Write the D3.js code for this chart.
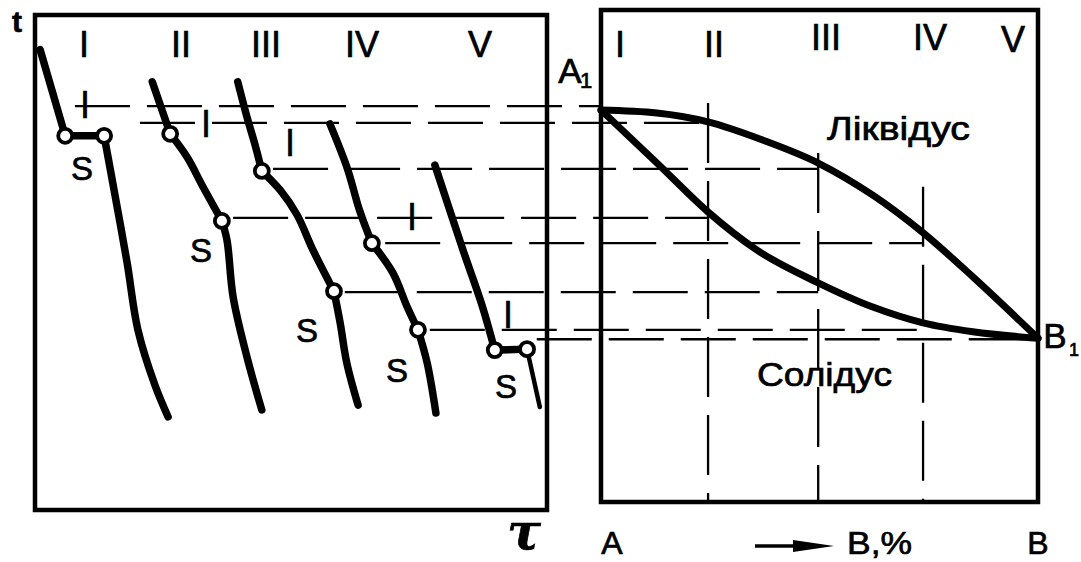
<!DOCTYPE html>
<html>
<head>
<meta charset="utf-8">
<script src="https://cdn.jsdelivr.net/npm/d3@7"></script>
<style>
  body { margin: 0; background: #fff; }
  svg { display: block; }
  text { font-family: "Liberation Sans", Arial, sans-serif; fill: #000; stroke: #000; stroke-width: 0.7px; }
</style>
</head>
<body>
<svg width="1081" height="562"></svg>
<script>
// --- Data: cooling curves [tau, t], split into liquid / crystallisation / solid parts ---
const alloys = ["I", "II", "III", "IV", "V"];

const coolI = [
  [[1, 93], [5.9, 75.6]],
  [[5.9, 75.6], [13.5, 75.6]],
  [[13.5, 75.6], [15.8, 62.6], [18.0, 49.9], [20.1, 36.4], [23.4, 25.3], [26.0, 18.8]]
];
const coolII = [
  [[22.9, 86.5], [26.4, 76.0]],
  [[26.4, 76.0], [29.7, 71.3], [32.8, 65.3], [36.5, 58.4]],
  [[36.5, 58.4], [37.5, 54.5], [38.7, 43.0], [41.4, 30.9], [44.3, 20.2]]
];
const coolIII = [
  [[39.6, 86.5], [41.4, 79.4], [43.0, 73.7], [44.3, 68.5]],
  [[44.3, 68.5], [47.9, 64.6], [51.2, 59.6], [54.3, 52.5], [58.4, 44.2]],
  [[58.4, 44.2], [59.6, 37.8], [60.9, 29.7], [63.1, 21.2]]
];
const coolIV = [
  [[57.6, 78.0], [61.0, 69.0], [63.4, 60.5], [65.8, 53.9]],
  [[65.8, 53.9], [69.9, 47.9], [72.7, 41.0], [74.8, 36.4]],
  [[74.8, 36.4], [76.6, 29.7], [78.3, 19.6]]
];
const coolV = [
  [[78.1, 69.7], [83.6, 52.5], [87.3, 41.4], [89.8, 32.3]],
  [[89.8, 32.3], [96.1, 32.5]],
  [[96.1, 32.5], [98.6, 20.8]]
];

// --- Data: phase diagram [B %, t] ---
const liquidus = [[0, 80.8], [12.8, 80.2], [24.5, 78.4], [37.1, 74.7], [49.7, 70.1],
                  [62.2, 63.6], [73.7, 56.0], [85.1, 47.1], [100, 34.7]];
const solidus = [[0, 80.8], [12.8, 70.1], [24.5, 60.2], [35.7, 52.5], [49.7, 45.9],
                 [62.2, 41.0], [73.7, 37.8], [85.1, 36.0], [100, 34.7]];
const alloyComp = [0, 24.5, 49.7, 73.7, 100];
const isoplethTop = [82.2, 72.1, 65.3];   // tops of dashed verticals for II, III, IV

// --- Data: transfer lines (temperature, start tau on left, end composition on right) ---
const tieT = [81.6, 78.2, 68.9, 59.0, 53.9, 44.0, 36.4, 34.5];
const tieStartTau = [7.8, 20.5, 46.5, 38.7, 68.4, 60.5, 77.1, 98.0];
const tieEndComp = [0, 24.5, 49.7, 24.5, 73.7, 49.7, 73.7, 100];

const svg = d3.select("svg");

// scales
const x = d3.scaleLinear().domain([0, 100]).range([35, 547]);      // time
const y = d3.scaleLinear().domain([0, 100]).range([510, 15]);      // temperature
const xc = d3.scaleLinear().domain([0, 100]).range([601, 1038]);   // composition
const rightTop = 10, rightBottom = 502;

// --- transfer lines (drawn first, under everything) ---
svg.append("g")
  .selectAll("line")
  .data(tieT)
  .enter().append("line")
  .attr("x1", (d, i) => x(tieStartTau[i]))
  .attr("x2", (d, i) => xc(tieEndComp[i]))
  .attr("y1", d => y(d))
  .attr("y2", d => y(d))
  .attr("stroke", "#000")
  .attr("stroke-width", 2.3)
  .attr("stroke-dasharray", "55,17");

// dashed verticals for alloys II..IV
svg.append("g")
  .selectAll("line")
  .data(isoplethTop)
  .enter().append("line")
  .attr("x1", (d, i) => xc(alloyComp[i + 1]))
  .attr("x2", (d, i) => xc(alloyComp[i + 1]))
  .attr("y1", d => y(d))
  .attr("y2", rightBottom)
  .attr("stroke", "#000")
  .attr("stroke-width", 2.3)
  .attr("stroke-dasharray", "60,18");

// --- frames ---
svg.append("rect")
  .attr("x", x(0)).attr("y", y(100))
  .attr("width", x(100) - x(0)).attr("height", y(0) - y(100))
  .attr("fill", "none").attr("stroke", "#000").attr("stroke-width", 4.5);

svg.append("rect")
  .attr("x", xc(0)).attr("y", rightTop)
  .attr("width", xc(100) - xc(0)).attr("height", rightBottom - rightTop)
  .attr("fill", "none").attr("stroke", "#000").attr("stroke-width", 4.5);

// --- liquidus / solidus ---
const diagLine = d3.line()
  .x(d => xc(d[0]))
  .y(d => y(d[1]))
  .curve(d3.curveMonotoneX);

svg.append("g")
  .selectAll("path")
  .data([liquidus, solidus])
  .enter().append("path")
  .attr("d", diagLine)
  .attr("fill", "none")
  .attr("stroke", "#000")
  .attr("stroke-width", 7)
  .attr("stroke-linecap", "round");

// --- cooling curves ---
const coolLine = d3.line()
  .x(d => x(d[0]))
  .y(d => y(d[1]))
  .curve(d3.curveCatmullRom.alpha(0.5));

const curves = [coolI, coolII, coolIII, coolIV, coolV];
const cg = svg.append("g");
curves.forEach((segs, ci) => {
  segs.forEach((seg, si) => {
    cg.append("path")
      .attr("d", coolLine(seg))
      .attr("fill", "none")
      .attr("stroke", "#000")
      .attr("stroke-width", (ci === 4 && si === 2) ? 4.5 : 7.5)
      .attr("stroke-linecap", "round")
      .attr("stroke-linejoin", "round");
  });
});

// start / end of crystallisation points
const breakPts = curves.flatMap(segs => [segs[1][0], segs[1][segs[1].length - 1]]);
svg.append("g")
  .selectAll("circle")
  .data(breakPts)
  .enter().append("circle")
  .attr("cx", d => x(d[0]))
  .attr("cy", d => y(d[1]))
  .attr("r", 7)
  .attr("fill", "#fff")
  .attr("stroke", "#000")
  .attr("stroke-width", 3.8);

// --- text ---
function label(txt, px, py, size, opts = {}) {
  const t = svg.append("text")
    .attr("x", px).attr("y", py)
    .attr("font-size", size)
    .attr("text-anchor", opts.anchor || "middle")
    .text(txt);
  if (opts.len) t.attr("textLength", opts.len).attr("lengthAdjust", "spacingAndGlyphs");
  if (opts.weight) t.attr("font-weight", opts.weight);
  return t;
}

label("t", 17, 32, 30, { weight: "bold" });

// numerals above the cooling curves
[84, 181, 266, 362, 480].forEach((px, i) => label(alloys[i], px, 57, 36));
// numerals above the diagram
[[620, 57], [714, 57], [826, 50], [930, 50], [1013, 52]]
  .forEach((p, i) => label(alloys[i], p[0], p[1], 36));

// liquidus marks (l) and solidus marks (S) on cooling curves
[[85, 118], [206, 137], [290, 156], [412, 230], [508, 328]]
  .forEach(p => label("l", p[0], p[1], 36));
[[82, 180], [201, 262], [307, 342], [397, 382], [506, 398]]
  .forEach(p => label("S", p[0], p[1], 33));

label("A", 570, 83, 35);
label("1", 586, 88, 22);
label("B", 1055, 348, 35);
label("1", 1069, 356, 18, { anchor: "start" });

label("Ліквідус", 827, 140, 34, { anchor: "start", len: 143 });
label("Солідус", 757, 386, 34, { anchor: "start", len: 135 });

label("A", 612, 554, 32);
label("B", 1038, 554, 32);
label("B,%", 847, 554, 32, { anchor: "start", len: 65 });

// arrow
svg.append("line")
  .attr("x1", 755).attr("x2", 800).attr("y1", 546).attr("y2", 546)
  .attr("stroke", "#000").attr("stroke-width", 3.5);
svg.append("path")
  .attr("d", "M793,540 L834,546 L793,552 Z")
  .attr("fill", "#000");

svg.append("text")
  .attr("x", 524).attr("y", 549)
  .attr("text-anchor", "middle")
  .attr("font-size", 50)
  .attr("font-style", "italic")
  .attr("font-weight", "bold")
  .style("font-family", "'DejaVu Serif', serif")
  .text("τ");
</script>
</body>
</html>
